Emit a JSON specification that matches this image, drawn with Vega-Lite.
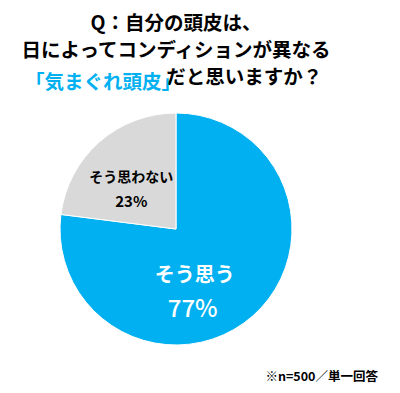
{
  "$schema": "https://vega.github.io/schema/vega-lite/v6.json",
  "width": 352,
  "height": 232,
  "padding": {"top": 14, "left": 0, "right": 0, "bottom": 0},
  "autosize": {"type": "pad"},
  "background": "white",
  "config": {"view": {"stroke": null}, "font": "Noto Sans CJK JP"},
  "title": {
    "text": ["Q：自分の頭皮は、", "日によってコンディションが異なる", "​　　　　　　　だと思いますか？"],
    "subtitle": "「気まぐれ頭皮」　　　　　　　　​",
    "font": "Noto Sans CJK JP",
    "fontSize": 19.5,
    "fontWeight": "bold",
    "color": "#000000",
    "lineHeight": 27,
    "subtitleFont": "Noto Sans CJK JP",
    "subtitleFontSize": 19.5,
    "subtitleFontWeight": "bold",
    "subtitleColor": "#00B0F0",
    "subtitleLineHeight": 27,
    "subtitlePadding": -15,
    "anchor": "middle",
    "offset": 18
  },
  "data": {"values": [
    {"answer": "そう思う", "share": 0.77},
    {"answer": "そう思わない", "share": 0.23}
  ]},
  "layer": [
    {
      "mark": {"type": "arc", "stroke": "white", "strokeWidth": 1},
      "encoding": {
        "theta": {"field": "share", "type": "quantitative", "stack": true},
        "order": {"field": "share", "sort": "descending"},
        "color": {"field": "answer", "type": "nominal", "scale": {"domain": ["そう思う", "そう思わない"], "range": ["#00B0F0", "#D9D9D9"]}, "legend": null}
      }
    },
    {
      "mark": {"type": "text", "fontWeight": "bold", "align": "center", "baseline": "middle",
        "dx": {"expr": "datum.answer === 'そう思う' ? -21 : -5"},
        "dy": {"expr": "datum.answer === 'そう思う' ? 2 : -6"}},
      "encoding": {
        "theta": {"field": "share", "type": "quantitative", "stack": true},
        "order": {"field": "share", "sort": "descending"},
        "radius": {"value": 60},
        "text": {"field": "answer", "type": "nominal"},
        "color": {"condition": {"test": "datum.answer === 'そう思う'", "value": "white"}, "value": "black"},
        "size": {"condition": {"test": "datum.answer === 'そう思う'", "value": 20}, "value": 14}
      }
    },
    {
      "mark": {"type": "text", "align": "center", "baseline": "middle",
        "fontWeight": {"expr": "datum.answer === 'そう思う' ? 500 : 'bold'"},
        "dx": {"expr": "datum.answer === 'そう思う' ? -23 : -5"},
        "dy": {"expr": "datum.answer === 'そう思う' ? 36 : 18"}},
      "encoding": {
        "theta": {"field": "share", "type": "quantitative", "stack": true},
        "order": {"field": "share", "sort": "descending"},
        "radius": {"value": 60},
        "text": {"field": "share", "type": "quantitative", "format": ".0%"},
        "color": {"condition": {"test": "datum.answer === 'そう思う'", "value": "white"}, "value": "black"},
        "size": {"condition": {"test": "datum.answer === 'そう思う'", "value": 24}, "value": 15}
      }
    },
    {
      "data": {"values": [{"note": "※n=500／単一回答"}]},
      "mark": {"type": "text", "align": "right", "baseline": "middle", "fontWeight": "bold", "fontSize": 12.5, "color": "black", "dx": 26, "dy": 32},
      "encoding": {
        "x": {"value": "width"},
        "y": {"value": "height"},
        "text": {"field": "note", "type": "nominal"}
      }
    }
  ]
}
